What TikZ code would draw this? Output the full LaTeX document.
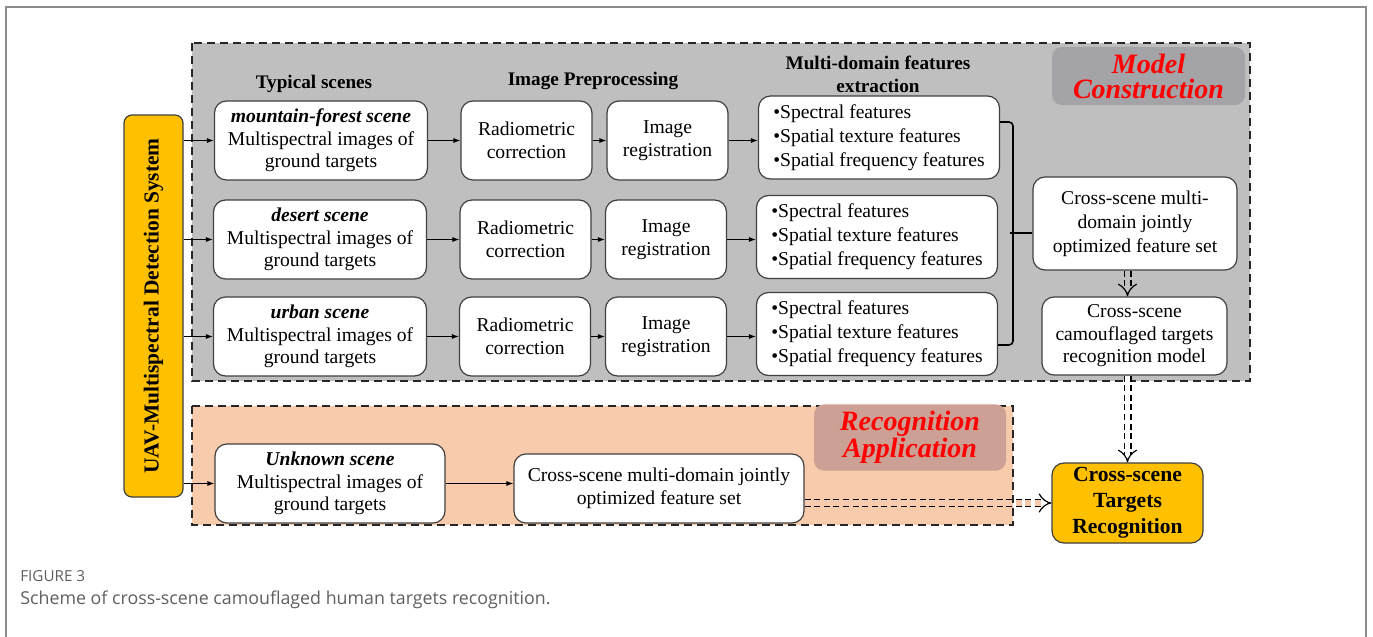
\documentclass[tikz,border=0pt]{standalone}
\usepackage{fontspec}
\setmainfont{Liberation Serif}
\newfontfamily\capfont{Open Sans}
\usepackage{graphicx}
\usetikzlibrary{arrows.meta}
\definecolor{PanelGray}{RGB}{191,191,191}
\definecolor{TagGray}{RGB}{163,163,168}
\definecolor{PanelPeach}{RGB}{248,203,173}
\definecolor{TagPeach}{RGB}{204,160,148}
\definecolor{BoxOrange}{RGB}{255,192,0}
\definecolor{EdgeGray}{RGB}{64,64,64}
\definecolor{CapGray}{RGB}{95,95,95}
\definecolor{FrameGray}{RGB}{140,140,140}

\begin{document}
\begin{tikzpicture}[x=0.5pt,y=-0.5pt,
        box/.style={draw=EdgeGray,fill=white,rounded corners=6pt,line width=0.6pt,
                    align=center,inner sep=1pt,font=\fontsize{9.8}{11.3}\selectfont},
        featbox/.style={box,align=left,font=\fontsize{9.8}{12}\selectfont},
        hdr/.style={font=\fontsize{9.6}{11.5}\selectfont\bfseries,align=center},
        tag/.style={rounded corners=5pt,align=center,text=red,
                    font=\fontsize{14}{12.5}\selectfont\bfseries\itshape},
        arrow/.style={-{Latex[length=3.5pt,width=2.6pt]},line width=0.6pt},
        panel/.style={dash pattern=on 4pt off 2.5pt,line width=0.9pt,black!85},
        hollow/.style={double distance=2.8pt,line width=0.6pt,
                       dash pattern=on 3pt off 1.8pt,-{Implies[scale=1.4]}}]
        \useasboundingbox (0,0) rectangle (1373,637);
        \draw[FrameGray,line width=0.8pt] (6,637) -- (6,7) -- (1366,7) -- (1366,637);
        \fill[PanelGray] (192,43) rectangle (1250,381);
        \draw[panel] (192,43) rectangle (1250,381);
        \fill[PanelPeach] (192,406) rectangle (1013,525);
        \draw[panel] (192,406) rectangle (1013,525);
        \node[tag,fill=TagGray,minimum width=96.5pt,minimum height=26pt] (mctag) at (1148.5,76) {Model\\Construction};
        \node[tag,fill=TagPeach,minimum width=96pt,minimum height=25.5pt] (ratag) at (910,437.5) {Recognition\\Application};
        \node[box,fill=BoxOrange,rounded corners=4pt,minimum width=29.5pt,minimum height=191pt] (uav) at (153.5,306)
              {\rotatebox{90}{\fontsize{10.7}{12}\selectfont\bfseries UAV-Multispectral Detection System}};
        \node[hdr] (h1) at (314,84) {Typical scenes};
        \node[hdr] (h2) at (593,81) {Image Preprocessing};
        \node[hdr] (h3) at (878,74) {Multi-domain features\\extraction};
        \node[box,minimum width=106.5pt,minimum height=39.5pt] (sc1) at (321,140.5)
              {\textbf{\textit{mountain-forest scene}}\\Multispectral images of\\ground targets};
        \node[box,minimum width=106.5pt,minimum height=39.5pt] (sc2) at (320,239.5)
              {\textbf{\textit{desert scene}}\\Multispectral images of\\ground targets};
        \node[box,minimum width=106.5pt,minimum height=39.5pt] (sc3) at (320,336.5)
              {\textbf{\textit{urban scene}}\\Multispectral images of\\ground targets};
        \node[box,minimum width=65.5pt,minimum height=39.5pt] (rad1) at (526.5,140.5) {Radiometric\\correction};
        \node[box,minimum width=65.5pt,minimum height=39.5pt] (rad2) at (525.5,239.5) {Radiometric\\correction};
        \node[box,minimum width=65.5pt,minimum height=39.5pt] (rad3) at (525,336.5) {Radiometric\\correction};
        \node[box,minimum width=60.5pt,minimum height=39.5pt] (reg1) at (667.5,140.5) {Image\\registration};
        \node[box,minimum width=60.5pt,minimum height=39.5pt] (reg2) at (666,239.5) {Image\\registration};
        \node[box,minimum width=60.5pt,minimum height=39.5pt] (reg3) at (666,336.5) {Image\\registration};
        \node[featbox,minimum width=120.5pt,minimum height=41.5pt] (feat1) at (879,137.5)
              {\textbullet Spectral features\\\textbullet Spatial texture features\\\textbullet Spatial frequency features};
        \node[featbox,minimum width=120.5pt,minimum height=41.5pt] (feat2) at (877,237)
              {\textbullet Spectral features\\\textbullet Spatial texture features\\\textbullet Spatial frequency features};
        \node[featbox,minimum width=120.5pt,minimum height=41.5pt] (feat3) at (877,334)
              {\textbullet Spectral features\\\textbullet Spatial texture features\\\textbullet Spatial frequency features};
        \node[box,minimum width=102pt,minimum height=46.5pt,font=\fontsize{9.8}{12}\selectfont] (fset) at (1135,223.5)
              {Cross-scene multi-\\domain jointly\\optimized feature set};
        \node[box,minimum width=92.5pt,minimum height=39pt] (model) at (1134.5,336)
              {Cross-scene\\camouflaged targets\\recognition model};
        \node[box,minimum width=115pt,minimum height=39.5pt] (unk) at (330,483.5)
              {\textbf{\textit{Unknown scene}}\\Multispectral images of\\ground targets};
        \node[box,minimum width=145pt,minimum height=34.5pt] (fs2) at (659,488.5)
              {Cross-scene multi-domain jointly\\optimized feature set};
        \node[box,fill=BoxOrange,minimum width=75.5pt,minimum height=40pt,
              font=\fontsize{10.8}{13}\selectfont\bfseries] (tgt) at (1127.5,503)
              {Cross-scene\\Targets\\Recognition};
        \draw[arrow] (uav.east |- sc1) -- (sc1);
        \draw[arrow] (uav.east |- sc2) -- (sc2);
        \draw[arrow] (uav.east |- sc3) -- (sc3);
        \draw[arrow] (uav.east |- unk) -- (unk);
        \draw[arrow] (sc1) -- (rad1);
        \draw[arrow] (sc2) -- (rad2);
        \draw[arrow] (sc3) -- (rad3);
        \draw[arrow] (rad1) -- (reg1);
        \draw[arrow] (rad2) -- (reg2);
        \draw[arrow] (rad3) -- (reg3);
        \draw[arrow] (reg1) -- (feat1.west |- reg1);
        \draw[arrow] (reg2) -- (feat2.west |- reg2);
        \draw[arrow] (reg3) -- (feat3.west |- reg3);
        \draw[arrow] (unk) -- (fs2.west |- unk);
        \coordinate (brtop) at (1013,122);
        \coordinate (brbot) at (1013,345);
        \coordinate (brmid) at (1013,233);
        \draw[line width=0.8pt,rounded corners=2pt] (feat1.east |- brtop) -- (brtop) -- (brbot) -- (feat3.east |- brbot);
        \draw[line width=0.8pt] ([xshift=-1.5pt]brmid) -- (fset.west |- brmid);
        \draw[hollow,double=PanelGray] (fset.south -| tgt) -- (model.north -| tgt);
        \draw[hollow,double=white] (model.south -| tgt) -- (tgt);
        \draw[hollow,double=PanelPeach] (fs2.east |- tgt) -- (tgt);
        \node[anchor=base west,inner sep=0pt,text=CapGray,font=\capfont\fontsize{7.6}{8}\selectfont] (fignum) at (20,581) {FIGURE 3};
        \node[anchor=base west,inner sep=0pt,text=CapGray,font=\capfont\fontsize{8.9}{10}\selectfont] (caption) at (20,604)
              {Scheme of cross-scene camouflaged human targets recognition.};
      \end{tikzpicture}
\end{document}
